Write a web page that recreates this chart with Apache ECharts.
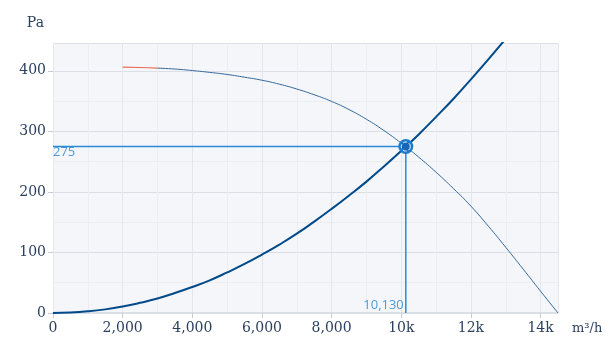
<!DOCTYPE html>
<html>
<head>
<meta charset="utf-8">
<script src="https://cdn.jsdelivr.net/npm/echarts@6/dist/echarts.min.js"></script>
<style>html,body{margin:0;padding:0;background:#fff}#c{width:610px;height:360px}</style>
</head>
<body>
<div id="c"></div>
<script>
// Fan curve (pressure vs flow)
var fanFlow = [2000, 2500, 3000, 3500, 4000, 4500, 5000, 5500, 6000, 6500, 7000, 7500, 8000, 8500, 9000, 9500, 10000, 10500, 11000, 11500, 12000, 12500, 13000, 13500, 14000, 14500];
var fanPa   = [406, 405.5, 404.5, 403, 400.5, 397.5, 394, 389.5, 384.5, 378, 370, 360.5, 349.5, 336, 320, 301.5, 280.5, 257.5, 232.5, 205.5, 176.5, 143.5, 108.5, 72.5, 36, 0];
var redEndIndex = 2; // red part of fan curve ends at this point
// System curve
var sysFlow = [0, 500, 1000, 1500, 2000, 2500, 3000, 3500, 4000, 4500, 5000, 5500, 6000, 6500, 7000, 7500, 8000, 8500, 9000, 9500, 10000, 10500, 11000, 11500, 12000, 12500, 13000];
var sysPa   = [0, 0.7, 2.7, 6, 10.7, 16.8, 24, 33, 43, 54, 67, 81, 96.5, 113, 131, 151, 172, 194, 217, 242, 268, 295, 324, 354, 386, 419, 453];
// Operating point
var opFlow = 10130;
var opPa = 275;
var xTickLabels = ['0', '2,000', '4,000', '6,000', '8,000', '10k', '12k', '14k'];

function pairs(xs, ys) { return xs.map(function (x, i) { return [x, ys[i]]; }); }
var fanPts = pairs(fanFlow, fanPa);

var chart = echarts.init(document.getElementById('c'), null, {renderer: 'canvas'});
var tickFont = {fontFamily: 'DejaVu Serif', fontSize: 14, color: '#2a3f5f'};
chart.setOption({
  animation: false,
  grid: {left: 53, right: 52, top: 43, bottom: 47, show: true, backgroundColor: '#f4f6f9', borderWidth: 0},
  xAxis: {
    type: 'value', min: 0, max: 14500, interval: 2000,
    name: 'm³/h', nameLocation: 'end', nameGap: 14,
    nameTextStyle: {fontFamily: 'DejaVu Serif', fontSize: 13, color: '#2a3f5f', verticalAlign: 'top', padding: [9, 0, 0, 0]},
    axisLine: {show: true, lineStyle: {color: '#dcdfe5', width: 2}},
    axisTick: {show: true, length: 5, lineStyle: {color: '#c8ccd4'}},
    axisLabel: Object.assign({margin: 8, showMaxLabel: false, formatter: function (v) {
      var i = Math.round(v / 2000); return xTickLabels[i] !== undefined ? xTickLabels[i] : '';
    }}, tickFont),
    splitLine: {show: true, lineStyle: {color: '#e3e6eb', width: 1}},
    minorTick: {show: false, splitNumber: 2},
    minorSplitLine: {show: true, lineStyle: {color: '#eceef2', width: 1}}
  },
  yAxis: {
    type: 'value', min: 0, max: 446, interval: 100,
    name: 'Pa', nameLocation: 'end', nameGap: 13,
    nameTextStyle: {fontFamily: 'DejaVu Serif', fontSize: 14, color: '#2a3f5f', align: 'right', padding: [0, 9, 0, 0]},
    axisLine: {show: true, lineStyle: {color: '#e6e8ec', width: 1}},
    axisTick: {show: true, length: 5, lineStyle: {color: '#c8ccd4'}},
    axisLabel: Object.assign({margin: 7, showMaxLabel: false}, tickFont),
    splitLine: {show: true, lineStyle: {color: '#dcdfe5', width: 1}},
    minorTick: {show: false, splitNumber: 2},
    minorSplitLine: {show: true, lineStyle: {color: '#eceef2', width: 1}}
  },
  series: [
    {type: 'line', data: fanPts.slice(0, redEndIndex + 1), smooth: true, symbol: 'none',
     lineStyle: {color: '#ea6a52', width: 1.2}, z: 3},
    {type: 'line', data: fanPts.slice(redEndIndex), smooth: true, symbol: 'none',
     lineStyle: {color: '#35699b', width: 1}, z: 3},
    {type: 'line', data: pairs(sysFlow, sysPa), smooth: true, symbol: 'none', clip: true,
     lineStyle: {color: '#004a8a', width: 2}, z: 4},
    {type: 'line', data: [[0, opPa], [opFlow, opPa]], symbol: 'none',
     lineStyle: {color: '#2a8ad6', width: 1.5}, z: 5},
    {type: 'line', data: [[opFlow, 0], [opFlow, opPa]], symbol: 'none',
     lineStyle: {color: '#2a8ad6', width: 1.5}, z: 5},
    {type: 'scatter', data: [[0, opPa]], symbol: 'circle', symbolSize: 0, itemStyle: {color: 'rgba(0,0,0,0)'},
     label: {show: true, position: 'right', distance: 0, offset: [0, 6], formatter: String(opPa),
       color: '#1f86d3', fontFamily: 'Open Sans', fontSize: 13}, z: 6},
    {type: 'scatter', data: [[opFlow, 0]], symbol: 'circle', symbolSize: 0, itemStyle: {color: 'rgba(0,0,0,0)'},
     label: {show: true, position: 'left', distance: 2, offset: [0, -8], formatter: opFlow.toLocaleString('en-US'),
       color: '#1f86d3', fontFamily: 'Open Sans', fontSize: 13}, z: 6},
    {type: 'scatter', data: [[opFlow, opPa]], symbol: 'circle', symbolSize: 15,
     itemStyle: {color: '#1a7ccc', opacity: 1}, z: 7},
    {type: 'scatter', data: [[opFlow, opPa]], symbol: 'circle', symbolSize: 9,
     itemStyle: {color: '#1567b5', borderColor: '#ffffff', borderWidth: 1, borderType: 'dashed', opacity: 1}, z: 8}
  ]
});
</script>
</body>
</html>
